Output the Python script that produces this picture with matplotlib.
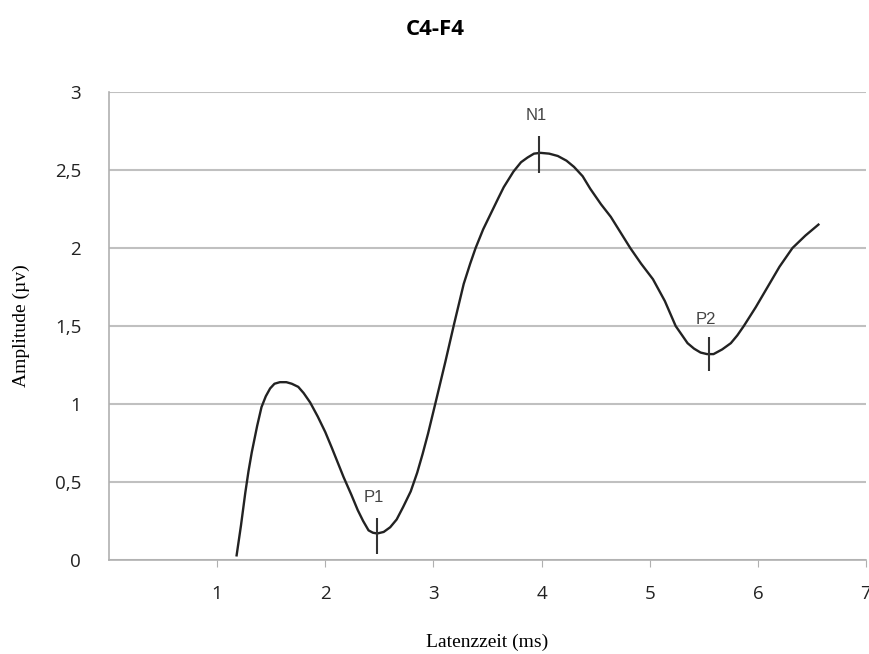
import matplotlib.pyplot as plt

# curve (latency in ms, amplitude in uV)
lat = [1.18, 1.22, 1.26, 1.29, 1.32, 1.37, 1.41, 1.45, 1.49, 1.53, 1.58, 1.64, 1.69, 1.75,
       1.80, 1.86, 1.93, 2.00, 2.06, 2.17, 2.24, 2.30, 2.35, 2.40, 2.44, 2.48, 2.54, 2.60,
       2.66, 2.72, 2.79, 2.85, 2.90, 2.95, 3.02, 3.11, 3.19, 3.28, 3.34, 3.39, 3.46, 3.53,
       3.60, 3.65, 3.74, 3.81, 3.87, 3.93, 3.99, 4.07, 4.15, 4.23, 4.30, 4.38, 4.45, 4.55,
       4.64, 4.73, 4.82, 4.92, 5.03, 5.14, 5.24, 5.30, 5.35, 5.41, 5.47, 5.53, 5.59, 5.67,
       5.75, 5.81, 5.87, 5.98, 6.09, 6.20, 6.32, 6.44, 6.56]
amp = [0.03, 0.22, 0.43, 0.57, 0.69, 0.86, 0.98, 1.05, 1.10, 1.13, 1.14, 1.14, 1.13, 1.11,
       1.07, 1.01, 0.92, 0.82, 0.72, 0.53, 0.42, 0.32, 0.25, 0.19, 0.175, 0.17, 0.18, 0.21,
       0.26, 0.34, 0.44, 0.56, 0.68, 0.81, 1.01, 1.27, 1.51, 1.77, 1.90, 2.00, 2.12, 2.22,
       2.32, 2.39, 2.49, 2.55, 2.58, 2.605, 2.61, 2.605, 2.59, 2.56, 2.52, 2.46, 2.38, 2.28,
       2.20, 2.10, 2.00, 1.90, 1.80, 1.66, 1.50, 1.44, 1.39, 1.355, 1.33, 1.32, 1.32, 1.35,
       1.39, 1.44, 1.50, 1.62, 1.75, 1.88, 2.00, 2.08, 2.15]

# peak markers
peak_names = ['P1', 'N1', 'P2']
peak_x = [2.48, 3.98, 5.55]
peak_lo = [0.04, 2.48, 1.21]
peak_hi = [0.27, 2.72, 1.43]
label_y = [0.40, 2.85, 1.54]

xticks = [1, 2, 3, 4, 5, 6, 7]
yticks = [0, 0.5, 1, 1.5, 2, 2.5, 3]

fig = plt.figure(figsize=(8.7, 6.54), dpi=100)
ax = fig.add_axes([0.1253, 0.1437, 0.8701, 0.7156])

ax.plot(lat, amp, color='#222222', lw=1.7, zorder=3, solid_joinstyle='round')
for name, px, lo, hi, ly in zip(peak_names, peak_x, peak_lo, peak_hi, label_y):
    ax.vlines(px, lo, hi, color='#333333', lw=1.5, zorder=4)
    ax.text(px - 0.03, ly, name, ha='center', va='center', fontsize=12,
            family='Liberation Sans', color='#444444')

ax.set_xlim(0, 7)
ax.set_ylim(0, 3)
ax.set_xticks(xticks)
ax.set_yticks(yticks)
ax.set_yticklabels([('%g' % v).replace('.', ',') for v in yticks])
ax.grid(axis='y', color='#c0c0c0', lw=1.5)
ax.set_axisbelow(True)

for s in ['top', 'right']:
    ax.spines[s].set_visible(False)
for s in ['left', 'bottom']:
    ax.spines[s].set_color('#b0b0b0')
    ax.spines[s].set_linewidth(1.2)

ax.tick_params(axis='x', length=5, color='#b0b0b0', pad=13, labelsize=13.5, labelcolor='#222222')
ax.tick_params(axis='y', length=0, pad=20, labelsize=13.5, labelcolor='#222222')
for lb in ax.get_xticklabels() + ax.get_yticklabels():
    lb.set_family('Open Sans')

ax.set_xlabel('Latenzzeit (ms)', family='Liberation Serif', fontsize=14, labelpad=22)
ax.set_ylabel('Amplitude (µv)', family='Liberation Serif', fontsize=14, labelpad=18)
fig.text(0.5, 0.955, 'C4-F4', ha='center', va='center', fontsize=16,
         fontweight='bold', family='Open Sans')

fig.savefig('out.png', dpi=100)
